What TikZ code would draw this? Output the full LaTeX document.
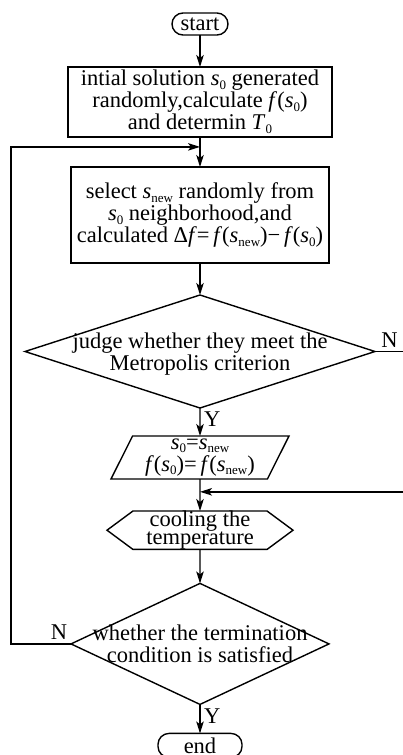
\documentclass[tikz,border=0pt]{standalone}
\usepackage{fontspec}
\setmainfont{Liberation Serif}
\usepackage{tikz}
\usetikzlibrary{positioning, arrows.meta, calc, shapes.geometric, shapes.symbols}

% low subscript as printed in the figure
\newcommand{\lowsub}[1]{\raisebox{-3.5pt}{\fontsize{13}{13}\selectfont #1}}

\begin{document}
\begin{tikzpicture}[
  x=1pt, y=1pt,
  every node/.style={font=\fontsize{22.5}{22}\selectfont},
  >={Stealth[length=12pt, width=7.5pt, inset=3pt]},
  terminal/.style={
    draw, line width=1.4pt, rounded corners=11pt, outer sep=0pt,
    minimum width=56pt, minimum height=22pt, inner sep=0pt
  },
  process/.style={
    draw, line width=1.4pt, inner sep=0pt, outer sep=0pt, align=center
  },
  decision/.style={
    draw, line width=1.4pt, diamond, inner sep=0pt, outer sep=0pt
  },
  iobox/.style={
    draw, line width=1.4pt, trapezium, trapezium left angle=60,
    trapezium right angle=120, trapezium stretches body=true,
    inner sep=0pt, outer sep=0pt, align=center
  },
  prepbox/.style={
    draw, line width=1.4pt, signal, signal to=west and east,
    signal pointer angle=73, inner sep=0pt, outer sep=0pt, align=center,
    font=\fontsize{22.5}{18}\selectfont
  },
  arrow/.style={->, line width=1.4pt}
]
\useasboundingbox (0,0) rectangle (402,-755);

\node[terminal] (start) at (200,-24) {start};

\node[process, below=32pt of start, minimum width=264pt, minimum height=70pt] (init) {%
  intial solution \textit{s}\lowsub{0} generated\\
  randomly,calculate \textit{f}\/(\textit{s}\lowsub{0})\\
  and determin \textit{T}\lowsub{0}};

\node[process, below=30pt of init, minimum width=258pt, minimum height=96pt] (select) {%
  select \textit{s}\lowsub{new} randomly from\\
  \textit{s}\lowsub{0} neighborhood,and\\
  calculated Δ\textit{f}\/=\,\textit{f}\/(\textit{s}\lowsub{new})−\,\textit{f}\/(\textit{s}\lowsub{0})};

\node[decision, below=32pt of select, minimum width=350pt, minimum height=113pt] (judge) {};
\node[align=center] (judgetext) at ($(judge.center)+(0,-3)$) {%
  judge whether they meet the\\ Metropolis criterion};

\node[iobox, below=28pt of judge, minimum width=178pt, minimum height=43pt] (update) {%
  \textit{s}\lowsub{0}=\textit{s}\lowsub{new}\\
  \textit{f}\/(\textit{s}\lowsub{0})=\,\textit{f}\/(\textit{s}\lowsub{new})};

\node[prepbox, below=32pt of update, minimum width=186pt, minimum height=37pt] (cool) {%
  cooling the\\ temperature};

\node[decision, below=34pt of cool, minimum width=258pt, minimum height=121pt] (term) {};
\node[align=center] (termtext) at (term.center) {%
  whether the termination\\ condition is satisfied};

\node[terminal, below=29pt of term, minimum width=84pt, minimum height=24pt] (end) {end};

% junctions and rails
\coordinate (merge1) at ($(init.south)!0.33!(select.north)$);
\coordinate (merge2) at ($(update.south)!0.4!(cool.north)$);
\coordinate (rightrail) at (404,0);
\coordinate (leftrail) at (11,0);

\draw[arrow] (start) -- (init);
\draw[arrow] (init) -- (select);
\draw[arrow] (select) -- (judge);
\draw[arrow] (judge) -- node[right, pos=0.4] (yes1) {Y} (update);
\draw[arrow] (update) -- (cool);
\draw[arrow] (cool) -- (term);
\draw[arrow] (term) -- node[right, pos=0.4] (yes2) {Y} (end);

\draw[arrow] (judge.east) -- node[above] (no1) {N} (judge.east -| rightrail) |- (merge2);
\draw[arrow] (term.west) -- node[above, pos=0.2] (no2) {N} (term.west -| leftrail) |- (merge1);

\end{tikzpicture}
\end{document}
